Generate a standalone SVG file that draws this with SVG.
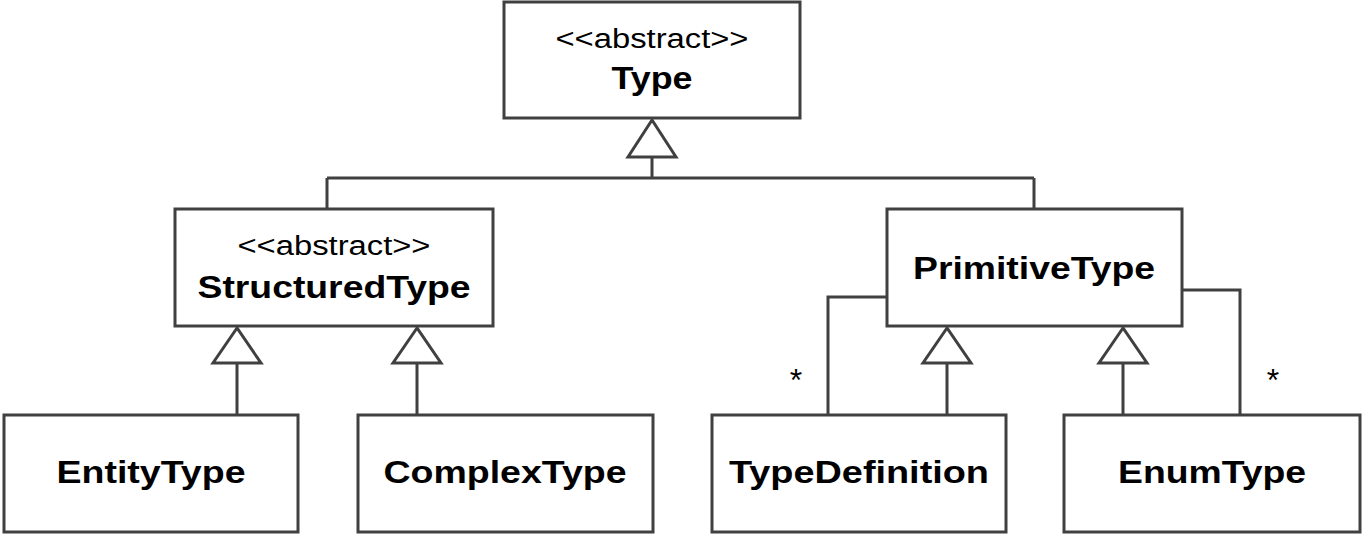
<svg xmlns="http://www.w3.org/2000/svg" width="1364" height="535" viewBox="0 0 1364 535">
<style>
.box{fill:#fff;stroke:#404040;stroke-width:3}
.ln{fill:none;stroke:#404040;stroke-width:3}
.tri{fill:#fff;stroke:#404040;stroke-width:3;stroke-linejoin:miter}
.st{font-family:"Liberation Sans",Arial,sans-serif;font-size:27px;fill:#000;text-anchor:middle}
.nm{font-family:"Liberation Sans",Arial,sans-serif;font-size:31px;font-weight:bold;fill:#000;text-anchor:middle}
.mul{font-family:"Liberation Sans",Arial,sans-serif;font-size:32px;fill:#000;text-anchor:middle}
</style>
<rect width="1364" height="535" fill="#fff"/>
<g id="connectors">
<path class="ln" d="M652 157 V178 M327 178 H1034 M327 178 V209 M1034 178 V209"/>
<polygon class="tri" points="652,120 628,157 676,157"/>
<path class="ln" d="M237 363 V415 M417 363 V415"/>
<polygon class="tri" points="237,328 213,363 261,363"/>
<polygon class="tri" points="417,328 393,363 441,363"/>
<path class="ln" d="M947 363 V415 M1123 363 V415"/>
<polygon class="tri" points="947,328 923,363 971,363"/>
<polygon class="tri" points="1123,328 1099,363 1147,363"/>
<path class="ln" d="M887 297 H828 V415"/>
<path class="ln" d="M1182 290 H1240 V415"/>
<text class="mul" x="796" y="391">*</text>
<text class="mul" x="1273" y="391">*</text>
</g>
<g id="Type">
<rect class="box" x="504" y="2" width="296" height="116"/>
<text class="st" x="652" y="48" textLength="193" lengthAdjust="spacingAndGlyphs">&lt;&lt;abstract&gt;&gt;</text>
<text class="nm" x="652" y="89" textLength="81" lengthAdjust="spacingAndGlyphs">Type</text>
</g>
<g id="StructuredType">
<rect class="box" x="175" y="209" width="318" height="117"/>
<text class="st" x="334" y="255" textLength="193" lengthAdjust="spacingAndGlyphs">&lt;&lt;abstract&gt;&gt;</text>
<text class="nm" x="334" y="298" textLength="273" lengthAdjust="spacingAndGlyphs">StructuredType</text>
</g>
<g id="PrimitiveType">
<rect class="box" x="887" y="209" width="295" height="117"/>
<text class="nm" x="1034" y="279" textLength="242" lengthAdjust="spacingAndGlyphs">PrimitiveType</text>
</g>
<g id="EntityType">
<rect class="box" x="4" y="415" width="294" height="117"/>
<text class="nm" x="151" y="483" textLength="189" lengthAdjust="spacingAndGlyphs">EntityType</text>
</g>
<g id="ComplexType">
<rect class="box" x="358" y="415" width="295" height="117"/>
<text class="nm" x="505" y="483" textLength="243" lengthAdjust="spacingAndGlyphs">ComplexType</text>
</g>
<g id="TypeDefinition">
<rect class="box" x="712" y="415" width="294" height="117"/>
<text class="nm" x="859" y="483" textLength="260" lengthAdjust="spacingAndGlyphs">TypeDefinition</text>
</g>
<g id="EnumType">
<rect class="box" x="1064" y="415" width="296" height="117"/>
<text class="nm" x="1212" y="483" textLength="188" lengthAdjust="spacingAndGlyphs">EnumType</text>
</g>
</svg>
